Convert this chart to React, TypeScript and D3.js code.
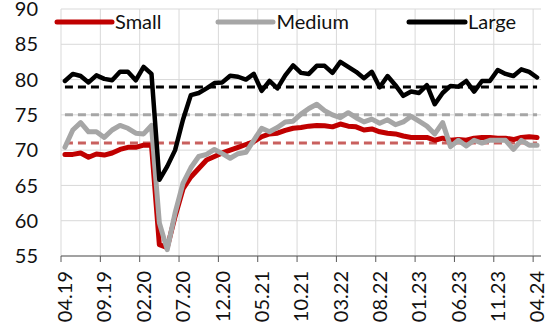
import React from "react";
import * as d3 from "d3";

const months: string[] = (() => {
  const out: string[] = [];
  let m = 4, y = 19;
  for (let i = 0; i < 61; i++) {
    out.push(String(m).padStart(2, "0") + "." + String(y));
    m++;
    if (m > 12) { m = 1; y++; }
  }
  return out;
})();

const small = [
  69.4, 69.4, 69.6, 69.0, 69.45, 69.3, 69.6, 70.1, 70.4, 70.4,
  70.7, 70.7, 56.6, 56.2, 60.6, 64.5, 66.2, 67.4, 68.6, 69.1,
  69.6, 70.0, 70.4, 70.8, 71.2, 71.9, 72.3, 72.4, 72.8, 73.1,
  73.2, 73.4, 73.5, 73.45, 73.3, 73.7, 73.4, 73.3, 72.85, 73.0,
  72.6, 72.4, 72.3, 72.0, 71.8, 71.8, 71.8, 71.4, 71.7, 71.4,
  71.5, 71.4, 71.7, 71.8, 71.8, 71.7, 71.7, 71.5, 71.8, 71.9,
  71.8,
];

const medium = [
  70.4, 72.85, 73.9, 72.6, 72.6, 71.8, 72.85, 73.5, 73.1, 72.4,
  72.3, 73.5, 59.7, 55.9, 61.1, 65.3, 67.5, 69.1, 69.4, 70.1,
  69.5, 68.85, 69.5, 69.7, 71.4, 73.1, 72.6, 73.2, 74.0, 74.1,
  75.1, 75.9, 76.5, 75.6, 75.0, 74.6, 75.3, 74.6, 74.0, 74.4,
  73.8, 74.3, 73.6, 74.0, 74.8, 74.1, 73.4, 72.3, 73.9, 70.5,
  71.4, 70.6, 71.4, 71.0, 71.4, 71.4, 71.4, 70.1, 71.4, 70.7,
  70.7,
];

const large = [
  79.8, 80.8, 80.5, 79.6, 80.6, 80.1, 79.9, 81.1, 81.1, 79.9,
  81.8, 80.8, 65.8, 67.7, 70.0, 74.3, 77.8, 78.1, 78.75, 79.5,
  79.6, 80.55, 80.4, 80.0, 80.8, 78.4, 79.8, 78.75, 80.6, 82.0,
  80.95, 80.8, 81.95, 81.95, 80.95, 82.5, 81.8, 81.1, 80.2, 81.1,
  78.9, 80.5, 79.2, 77.7, 78.3, 78.1, 79.2, 76.5, 78.1, 79.1,
  79.0, 79.8, 78.3, 79.8, 79.8, 81.35, 80.8, 80.5, 81.45, 81.1,
  80.3,
];

const avgSmall = 71.0;
const avgMedium = 75.0;
const avgLarge = 78.95;

const yTicks = [55, 60, 65, 70, 75, 80, 85, 90];
const seriesNames = ["Small", "Medium", "Large"];

const W = 546, H = 332;
const L = 61, R = 541, T = 9, B = 256;
const FONT = "Lato, 'Open Sans', sans-serif";

export default function App() {
  const idx = months.map((_, i) => i);
  const x = d3.scaleBand<number>().domain(idx).range([L, R]).paddingInner(0).paddingOuter(0);
  const bw = x.bandwidth();
  const cx = (i: number) => (x(i) as number) + bw / 2;
  const y = d3.scaleLinear().domain([55, 90]).range([B, T]);

  const line = d3.line<number>().x((_, i) => cx(i)).y((v) => y(v));
  const tickIdx = idx.filter((i) => i % 5 === 0);
  const tickX = (i: number) => (x(i) as number);

  const colors = ["#c00000", "#a6a6a6", "#000000"];
  const widths = [5, 5, 4.5];
  const data = [small, medium, large];
  const avgs = [avgSmall, avgMedium, avgLarge];
  const avgColors = ["#c9605e", "#a6a6a6", "#000000"];

  const legendX = [[57, 112, 115], [218, 273, 276.5], [409, 465, 468]];

  return (
    <svg width={W} height={H} style={{ position: "absolute", left: 0, top: 0, background: "#fff" }}>
      {/* horizontal gridlines */}
      {yTicks.map((t) => (
        <line key={"h" + t} x1={L} x2={R} y1={y(t)} y2={y(t)} stroke="#d9d9d9" strokeWidth={1} />
      ))}
      {/* vertical gridlines */}
      {tickIdx.map((i) => (
        <line key={"v" + i} x1={tickX(i)} x2={tickX(i)} y1={T} y2={B} stroke="#d9d9d9" strokeWidth={1} />
      ))}
      {/* y labels */}
      {yTicks.map((t) => (
        <text key={"yl" + t} x={38} y={y(t)} dy="0.36em" textAnchor="end" fontFamily={FONT} fontSize={20} fill="#111">
          {t}
        </text>
      ))}
      {/* average dashed lines */}
      {avgs.map((a, k) => (
        <path
          key={"avg" + k}
          d={line(months.map(() => a)) || ""}
          fill="none"
          stroke={avgColors[k]}
          strokeWidth={3}
          strokeDasharray="8 5"
        />
      ))}
      {/* series */}
      {data.map((d, k) => (
        <path
          key={"s" + k}
          d={line(d) || ""}
          fill="none"
          stroke={colors[k]}
          strokeWidth={widths[k]}
          strokeLinejoin="round"
          strokeLinecap="round"
        />
      ))}
      {/* x axis */}
      <line x1={L} x2={R} y1={B} y2={B} stroke="#595959" strokeWidth={1} />
      {tickIdx.map((i) => (
        <line key={"t" + i} x1={tickX(i)} x2={tickX(i)} y1={B} y2={B + 6} stroke="#595959" strokeWidth={1} />
      ))}
      {tickIdx.map((i) => (
        <text
          key={"xl" + i}
          transform={`translate(${cx(i)},${271}) rotate(-90)`}
          dy="0.36em"
          textAnchor="end"
          fontFamily={FONT}
          fontSize={20}
          fill="#111"
        >
          {months[i]}
        </text>
      ))}
      {/* legend */}
      {seriesNames.map((n, k) => (
        <g key={"lg" + k}>
          <line
            x1={legendX[k][0]}
            x2={legendX[k][1]}
            y1={22}
            y2={22}
            stroke={colors[k]}
            strokeWidth={5}
            strokeLinecap="round"
          />
          <text x={legendX[k][2]} y={29} fontFamily={FONT} fontSize={20} fill="#111">
            {n}
          </text>
        </g>
      ))}
    </svg>
  );
}
